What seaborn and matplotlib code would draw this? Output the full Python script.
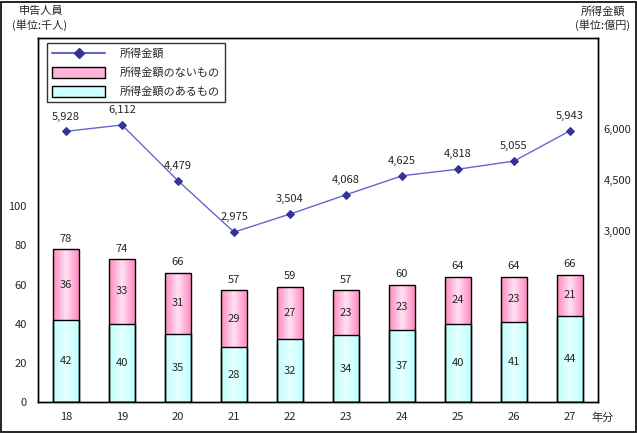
import numpy as np
import pandas as pd
import matplotlib
matplotlib.use('Agg')
import matplotlib.pyplot as plt
from matplotlib.patches import Rectangle, Patch
from matplotlib.lines import Line2D
import seaborn as sns

# Data
years = ['18', '19', '20', '21', '22', '23', '24', '25', '26', '27']
with_income = [42, 40, 35, 28, 32, 34, 37, 40, 41, 44]      # 所得金額のあるもの
without_income = [36, 33, 31, 29, 27, 23, 23, 24, 23, 21]   # 所得金額のないもの
totals = [78, 74, 66, 57, 59, 57, 60, 64, 64, 66]
income = [5928, 6112, 4479, 2975, 3504, 4068, 4625, 4818, 5055, 5943]  # 億円

sns.set_style('white')
plt.rcParams['font.family'] = ['Noto Sans CJK JP', 'DejaVu Sans']
plt.rcParams['font.size'] = 8

W, H = 637, 434
fig = plt.figure(figsize=(W / 100, H / 100), dpi=100)
ax = fig.add_axes([38 / W, 1 - 402 / H, 560 / W, 364 / H])

df = pd.DataFrame({'year': years,
                   'with': with_income,
                   'stack': np.array(with_income) + np.array(without_income)})

pink_edge = np.array([255, 140, 195]) / 255
pink_mid = np.array([255, 228, 242]) / 255
cyan_edge = np.array([190, 255, 255]) / 255
cyan_mid = np.array([232, 255, 255]) / 255

sns.barplot(data=df, x='year', y='stack', color='#FFB3D9', saturation=1,
            width=0.464, edgecolor='black', linewidth=1, ax=ax, zorder=2)
sns.barplot(data=df, x='year', y='with', color='#CCFFFF', saturation=1,
            width=0.464, edgecolor='black', linewidth=1, ax=ax, zorder=2)


def gradient_fill(ax, bars, edge, mid):
    t = np.abs(np.linspace(-1, 1, 64)) ** 0.9
    cols = mid[None, :] * (1 - t[:, None]) + edge[None, :] * t[:, None]
    img = cols[None, :, :]
    for p in bars:
        x0, y0 = p.get_x(), p.get_y()
        w, h = p.get_width(), p.get_height()
        im = ax.imshow(img, extent=[x0, x0 + w, y0, y0 + h], aspect='auto',
                       zorder=1.9, interpolation='bilinear')
        im.set_clip_path(p)


gradient_fill(ax, ax.containers[0], pink_edge, pink_mid)
gradient_fill(ax, ax.containers[1], cyan_edge, cyan_mid)
for p in list(ax.containers[0]) + list(ax.containers[1]):
    p.set_facecolor('none')

ax.set_xlim(-0.5, len(years) - 0.5)
ax.set_ylim(0, 186)
ax.set_yticks(range(0, 101, 20))
ax.set_xlabel('')
ax.set_ylabel('')
ax.tick_params(axis='y', length=0, pad=8, labelsize=8)
ax.tick_params(axis='x', which='major', length=0, pad=7, labelsize=8)
ax.set_xticks(np.arange(-0.5, len(years), 1), minor=True)
ax.tick_params(axis='x', which='minor', direction='in', length=3, width=1, color='black')
for s in ax.spines.values():
    s.set_color('black')
    s.set_linewidth(1)

# segment and total labels
for i in range(len(years)):
    ax.text(i, with_income[i] / 2, str(with_income[i]), ha='center', va='center', fontsize=8, zorder=5)
    ax.text(i, with_income[i] + without_income[i] / 2, str(without_income[i]),
            ha='center', va='center', fontsize=8, zorder=5)
    ax.annotate(str(totals[i]), (i, with_income[i] + without_income[i]),
                xytext=(0, 4), textcoords='offset points', ha='center', va='bottom', fontsize=8)

# income line on the secondary axis
ax2 = ax.twinx()
pos = np.arange(len(years))
sns.lineplot(x=pos, y=income, ax=ax2, color='#6666CC', linewidth=1, marker='D',
             markersize=4.5, markerfacecolor='#333399', markeredgecolor='#333399')
ax2.set_xlim(-0.5, len(years) - 0.5)
ax2.set_ylim(-2000, 8660)
ax2.set_yticks([3000, 4500, 6000])
ax2.set_yticklabels([f'{v:,}' for v in [3000, 4500, 6000]])
ax2.tick_params(axis='y', length=0, pad=4, labelsize=8)
ax2.set_ylabel('')
for s in ax2.spines.values():
    s.set_color('black')
    s.set_linewidth(1)
for i, v in enumerate(income):
    ax2.annotate(f'{v:,}', (i, v), xytext=(0, 7), textcoords='offset points',
                 ha='center', va='bottom', fontsize=8)

# legend
handles = [Line2D([], [], color='#6666CC', lw=1.5, marker='D', markersize=5,
                  markerfacecolor='#333399', markeredgecolor='#333399'),
           Patch(facecolor='#FFB3D9', edgecolor='black', linewidth=1),
           Patch(facecolor='#CCFFFF', edgecolor='black', linewidth=1)]
labels = ['所得金額', '所得金額のないもの', '所得金額のあるもの']
leg = ax2.legend(handles, labels, loc='upper left', bbox_to_anchor=(0.016, 0.986),
                 borderaxespad=0, fancybox=False, frameon=True, edgecolor='black',
                 handlelength=4.8, handleheight=1.1, handletextpad=1.3,
                 labelspacing=0.7, fontsize=8, borderpad=0.45)
leg.get_frame().set_linewidth(1)

# axis titles
fig.text(41 / W, 1 - 11 / H, '申告人員', ha='center', va='center', fontsize=8)
fig.text(40 / W, 1 - 25 / H, '(単位:千人)', ha='center', va='center', fontsize=8)
fig.text(603 / W, 1 - 11 / H, '所得金額', ha='center', va='center', fontsize=8)
fig.text(603 / W, 1 - 25 / H, '(単位:億円)', ha='center', va='center', fontsize=8)
fig.text(603 / W, 1 - 418 / H, '年分', ha='center', va='center', fontsize=8)

# outer frame
fig.add_artist(Rectangle((0.5 / W, 2.5 / H), (W - 2) / W, (H - 4) / H,
                         transform=fig.transFigure, fill=False, edgecolor='black', lw=1.2))

fig.savefig('out.png', dpi=100)
